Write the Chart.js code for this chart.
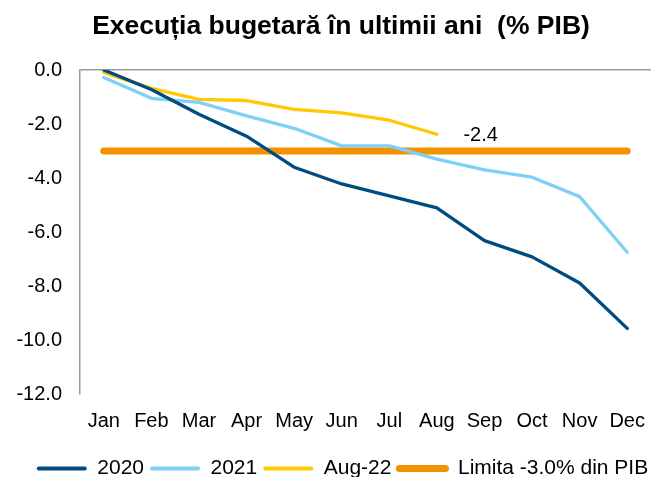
<!DOCTYPE html>
<html>
<head>
<meta charset="utf-8">
<script src="https://cdn.jsdelivr.net/npm/chart.js@4/dist/chart.umd.min.js"></script>
<style>
  html, body { margin: 0; padding: 0; background: #fff; }
  #wrap { width: 651px; height: 477px; position: relative; }
</style>
</head>
<body>
<div id="wrap"><canvas id="c"></canvas></div>
<script>
// valori (% PIB, cumulat)
const months = ["Jan", "Feb", "Mar", "Apr", "May", "Jun", "Jul", "Aug", "Sep", "Oct", "Nov", "Dec"];
const exec2020 = [0.0, -0.72, -1.64, -2.45, -3.6, -4.22, -4.66, -5.11, -6.32, -6.92, -7.89, -9.57];
const exec2021 = [-0.28, -1.05, -1.2, -1.7, -2.16, -2.81, -2.81, -3.3, -3.7, -3.97, -4.69, -6.75];
const exec2022 = [-0.09, -0.68, -1.09, -1.13, -1.46, -1.59, -1.86, -2.38];
const limita = [-3.0, -3.0, -3.0, -3.0, -3.0, -3.0, -3.0, -3.0, -3.0, -3.0, -3.0, -3.0];
const yTicks = [0, -2, -4, -6, -8, -10, -12];
const TITLE = "Execuția bugetară în ultimii ani  (% PIB)";

const FONT = "'Liberation Sans', Arial, sans-serif";
const GREY = "#9a9a9a";

const line = (label, data, color, width) => ({
  label, data, borderColor: color, backgroundColor: color, borderWidth: width,
  pointRadius: 0, pointHoverRadius: 0, tension: 0, fill: false,
  borderCapStyle: "round", borderJoinStyle: "round",
});

// titlul e desenat manual (centrat putin spre dreapta, ca in original)
const titleText = {
  id: "titleText",
  afterLayout(chart) {
    // legenda e si ea decalata spre dreapta in original
    chart.legend.left += 16;
    chart.legend.right += 16;
  },
  afterDraw(chart) {
    const ctx = chart.ctx;
    ctx.save();
    ctx.font = `bold 26.5px ${FONT}`;
    ctx.fillStyle = "#000";
    ctx.textAlign = "center";
    ctx.textBaseline = "alphabetic";
    ctx.fillText(TITLE, 341, 33.5);
    ctx.restore();
  },
};

// eticheta -2.4 la capatul seriei Aug-22
const lastLabel = {
  id: "lastLabel",
  afterDatasetsDraw(chart) {
    const x = chart.scales.x, y = chart.scales.y;
    const i = exec2022.length - 1, v = exec2022[i];
    const px = x.getPixelForValue(i) + 0.92 * (x.getPixelForValue(i + 1) - x.getPixelForValue(i));
    const ctx = chart.ctx;
    ctx.save();
    ctx.font = `20px ${FONT}`;
    ctx.fillStyle = "#000";
    ctx.textAlign = "center";
    ctx.textBaseline = "middle";
    ctx.fillText(v.toFixed(1), px, y.getPixelForValue(v) + 1);
    ctx.restore();
  },
};

new Chart(document.getElementById("c"), {
  type: "line",
  data: {
    labels: months,
    datasets: [
      line("2020", exec2020, "#004b80", 3.3),
      line("2021", exec2021, "#80d0f6", 3.3),
      line("Aug-22", exec2022, "#ffc800", 3.3),
      line("Limita -3.0% din PIB", limita, "#f39200", 7),
    ],
  },
  options: {
    responsive: true,
    maintainAspectRatio: false,
    animation: false,
    events: [],
    layout: { padding: { left: 0, right: -2, top: 70, bottom: -12 } },
    scales: {
      x: {
        offset: true,
        grid: { display: false },
        border: { display: false },
        ticks: { color: "#000", font: { family: FONT, size: 20 }, padding: 7, maxRotation: 0, autoSkip: false },
        afterFit: (s) => { s.height = 58; s.paddingLeft = 0; s.paddingRight = 0; },
      },
      y: {
        min: -12, max: 0,
        afterBuildTicks: (s) => { s.ticks = yTicks.map((v) => ({ value: v })); },
        grid: { drawTicks: false, lineWidth: 1.5, color: (c) => (c.tick && c.tick.value === 0 ? GREY : "transparent") },
        border: { display: true, color: GREY, width: 1.5 },
        ticks: { color: "#000", font: { family: FONT, size: 20 }, padding: 18, callback: (v) => Number(v).toFixed(1) },
        afterFit: (s) => { s.width = 80; s.paddingTop = 0; s.paddingBottom = 0; },
      },
    },
    plugins: {
      tooltip: { enabled: false },
      title: { display: false },
      legend: {
        position: "bottom",
        labels: {
          color: "#000",
          font: { family: FONT, size: 21 },
          boxWidth: 50, boxHeight: 4, padding: 6,
          useBorderRadius: true, borderRadius: 2,
          generateLabels: (chart) => chart.data.datasets.map((d, i) => ({
            text: d.label, fillStyle: d.borderColor, strokeStyle: d.borderColor,
            lineWidth: d.borderWidth > 5 ? 3 : 0, hidden: false, datasetIndex: i,
            borderRadius: 2, fontColor: "#000",
          })),
        },
      },
    },
  },
  plugins: [lastLabel, titleText],
});
</script>
</body>
</html>
